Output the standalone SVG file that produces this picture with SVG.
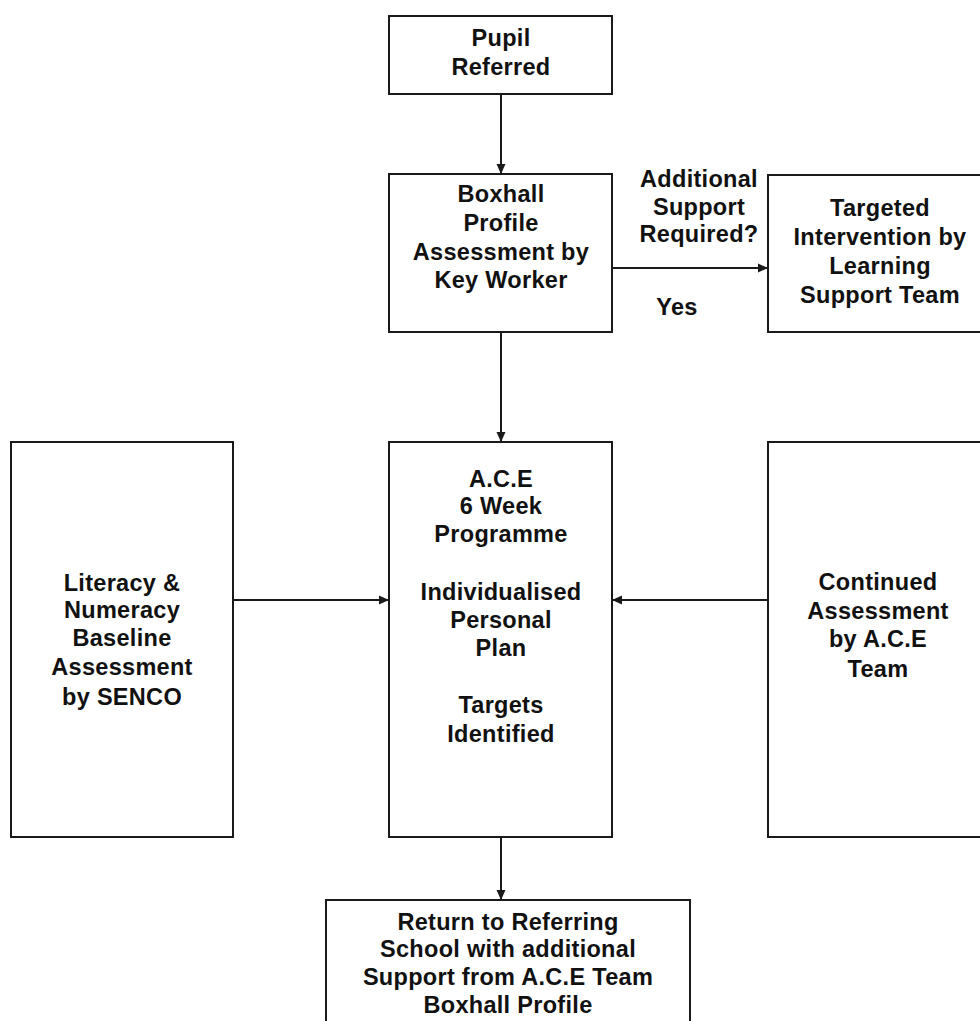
<svg xmlns="http://www.w3.org/2000/svg" width="980" height="1021" viewBox="0 0 980 1021">
  <style>
    .box { fill: #ffffff; stroke: #1a1a1a; stroke-width: 2; }
    .edge { fill: none; stroke: #1a1a1a; stroke-width: 2; marker-end: url(#arrow); }
    text { font-family: "Liberation Sans", Arial, sans-serif; font-weight: bold; font-size: 23.5px; fill: #111111; text-anchor: middle; letter-spacing: 0.3px; }
  </style>
  <defs>
    <marker id="arrow" viewBox="0 0 10 10" refX="10" refY="5" markerWidth="10" markerHeight="10" markerUnits="userSpaceOnUse" orient="auto">
      <path d="M0,0.5 L10,5 L0,9.5 Z" fill="#1a1a1a"/>
    </marker>
  </defs>
  <rect width="980" height="1021" fill="#ffffff"/>

  <g id="connectors">
    <line class="edge" x1="501" y1="94" x2="501" y2="174"/>
    <line class="edge" x1="612" y1="268" x2="768" y2="268"/>
    <line class="edge" x1="501" y1="332" x2="501" y2="442"/>
    <line class="edge" x1="233" y1="600" x2="389" y2="600"/>
    <line class="edge" x1="768" y1="600" x2="612" y2="600"/>
    <line class="edge" x1="501" y1="837" x2="501" y2="900"/>
  </g>

  <g id="pupil-referred">
    <rect class="box" x="389" y="16" width="223" height="78"/>
    <text x="501" y="46">Pupil</text>
    <text x="501" y="75">Referred</text>
  </g>

  <g id="boxhall-assessment">
    <rect class="box" x="389" y="174" width="223" height="158"/>
    <text x="501" y="202">Boxhall</text>
    <text x="501" y="231">Profile</text>
    <text x="501" y="260">Assessment by</text>
    <text x="501" y="288">Key Worker</text>
  </g>

  <g id="decision-label">
    <text x="699" y="187">Additional</text>
    <text x="699" y="215">Support</text>
    <text x="699" y="242">Required?</text>
    <text x="677" y="315">Yes</text>
  </g>

  <g id="targeted-intervention">
    <rect class="box" x="768" y="175" width="224" height="157"/>
    <text x="880" y="216">Targeted</text>
    <text x="880" y="245">Intervention by</text>
    <text x="880" y="274">Learning</text>
    <text x="880" y="303">Support Team</text>
  </g>

  <g id="literacy-numeracy">
    <rect class="box" x="11" y="442" width="222" height="395"/>
    <text x="122" y="591">Literacy &amp;</text>
    <text x="122" y="618">Numeracy</text>
    <text x="122" y="646">Baseline</text>
    <text x="122" y="675">Assessment</text>
    <text x="122" y="705">by SENCO</text>
  </g>

  <g id="ace-programme">
    <rect class="box" x="389" y="442" width="223" height="395"/>
    <text x="501" y="487">A.C.E</text>
    <text x="501" y="514">6 Week</text>
    <text x="501" y="542">Programme</text>
    <text x="501" y="600">Individualised</text>
    <text x="501" y="628">Personal</text>
    <text x="501" y="656">Plan</text>
    <text x="501" y="713">Targets</text>
    <text x="501" y="742">Identified</text>
  </g>

  <g id="continued-assessment">
    <rect class="box" x="768" y="442" width="224" height="395"/>
    <text x="878" y="590">Continued</text>
    <text x="878" y="619">Assessment</text>
    <text x="878" y="647">by A.C.E</text>
    <text x="878" y="677">Team</text>
  </g>

  <g id="return-to-school">
    <rect class="box" x="326" y="900" width="364" height="140"/>
    <text x="508" y="930">Return to Referring</text>
    <text x="508" y="957">School with additional</text>
    <text x="508" y="985">Support from A.C.E Team</text>
    <text x="508" y="1013">Boxhall Profile</text>
  </g>
</svg>
